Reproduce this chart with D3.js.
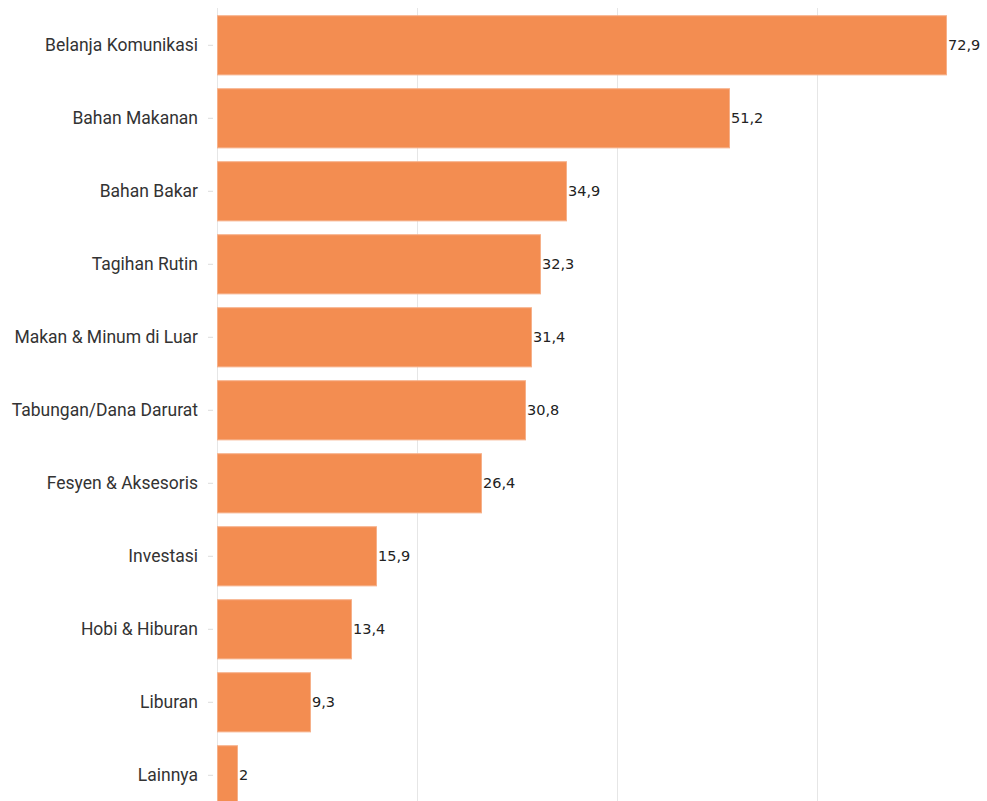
<!DOCTYPE html>
<html>
<head>
<meta charset="utf-8">
<script src="https://cdn.jsdelivr.net/npm/d3@7"></script>
<style>
  body { margin: 0; background: #fff; }
  svg { display: block; }
</style>
</head>
<body>
<div id="chart"></div>
<script>
const categories = ["Belanja Komunikasi", "Bahan Makanan", "Bahan Bakar", "Tagihan Rutin",
    "Makan & Minum di Luar", "Tabungan/Dana Darurat", "Fesyen & Aksesoris", "Investasi",
    "Hobi & Hiburan", "Liburan", "Lainnya"];
const values = [72.9, 51.2, 34.9, 32.3, 31.4, 30.8, 26.4, 15.9, 13.4, 9.3, 2];
const gridTicks = [0, 20, 40, 60];

const chartW = 987, chartH = 801;
const marginLeft = 217, marginTop = 8.8;

const svg = d3.select("#chart").append("svg")
    .attr("width", chartW)
    .attr("height", chartH);

const x = d3.scaleLinear()
    .domain([0, 77])
    .range([marginLeft, marginLeft + 770]);

const y = d3.scaleBand()
    .domain(categories)
    .range([marginTop, marginTop + 73 * categories.length])
    .paddingInner(0.19)
    .paddingOuter(0.095);

// vertical gridlines
svg.append("g")
    .selectAll("line")
    .data(gridTicks)
    .join("line")
    .attr("x1", d => x(d) + 0.5)
    .attr("x2", d => x(d) + 0.5)
    .attr("y1", 8)
    .attr("y2", chartH)
    .attr("stroke", "#e6e6e6")
    .attr("stroke-width", 1);

// y axis
const yAxis = svg.append("g")
    .attr("transform", `translate(${x(0)},0)`)
    .call(d3.axisLeft(y).tickSize(8).tickPadding(10));
yAxis.select(".domain").remove();
yAxis.selectAll(".tick line").attr("stroke", "#dddddd").attr("x2", -4).attr("x1", -9);
yAxis.selectAll(".tick text")
    .attr("font-family", "Roboto, sans-serif")
    .attr("font-size", 17.5)
    .attr("fill", "#333333")
    .attr("x", -19);

// bars
svg.append("g")
    .selectAll("rect")
    .data(values)
    .join("rect")
    .attr("x", x(0) + 0.5)
    .attr("y", (d, i) => y(categories[i]))
    .attr("width", d => x(d) - x(0))
    .attr("height", y.bandwidth())
    .attr("fill", "#f38d51")
    .attr("stroke", "#f6b089")
    .attr("stroke-width", 1);

// value labels
svg.append("g")
    .selectAll("text")
    .data(values)
    .join("text")
    .attr("x", d => x(d) + 2)
    .attr("y", (d, i) => y(categories[i]) + y.bandwidth() / 2)
    .attr("dy", "0.35em")
    .attr("font-family", "'DejaVu Sans', Verdana, sans-serif")
    .attr("font-size", 14.5)
    .attr("fill", "#222")
    .text(d => String(d).replace(".", ","));
</script>
</body>
</html>
